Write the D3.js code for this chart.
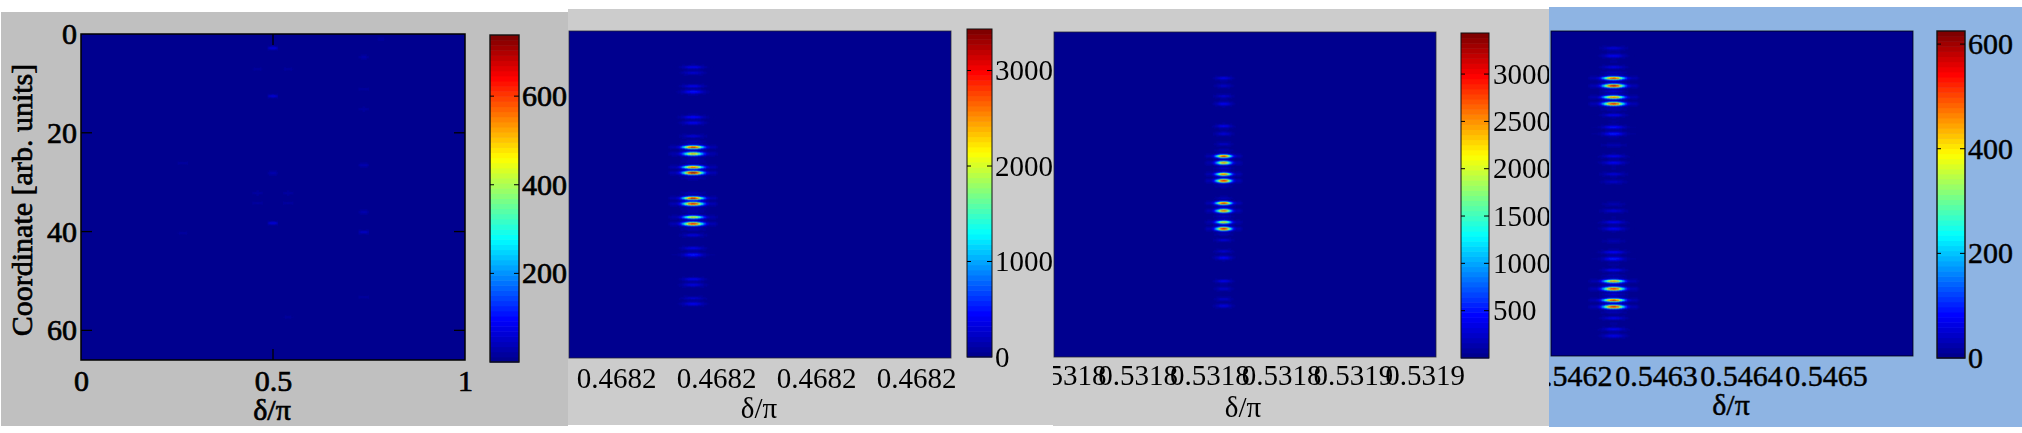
<!DOCTYPE html>
<html><head><meta charset="utf-8">
<style>html,body{margin:0;padding:0;background:#fff}svg{display:block}text{font-family:"Liberation Serif",serif;fill:#000}</style>
<script src="https://cdnjs.cloudflare.com/ajax/libs/d3/7.8.5/d3.min.js"></script>
</head><body><svg id="c" width="2022" height="433"></svg>
<script>
// Bright fringes: coordinate and peak intensity
const coordMax = 66;
const p1Spots = [[0.5,2.8,70],[0.5,12.5,65],[0.5,28,30],[0.5,38,70],[0.737,4.7,28],[0.737,15,22],[0.737,26.4,35],[0.737,35.9,30],[0.737,39.8,50],[0.737,53,16],[0.265,26,16],[0.265,40,14],[0.46,7,12],[0.54,7,12],[0.46,32,22],[0.54,32,22],[0.46,34,18],[0.54,34,18],[0.54,57,11],[0.78,1,10],[0.737,11,16]];
const p2Coord = [7.18,8.39,11.08,12.35,17.32,18.6,21.2,23.5,24.84,27.39,28.74,33.64,34.91,37.53,38.87,41.16,43.84,45.12,50.02,51.3,53.9,55.2];
const p2Peak  = [400,240,370,500,500,370,300,3350,2350,2950,3400,3430,3050,2350,3050,320,370,550,390,310,250,370];
const p3Coord = [9.36,10.92,13.09,14.58,19.13,20.62,22.79,25.1,26.59,28.83,30.32,34.8,36.29,38.53,40.02,42.33,44.5,45.99,50.53,52.09,54.26,55.69];
const p3Peak  = [370,220,280,400,420,280,230,3250,2450,2850,3050,3350,2750,2350,3150,290,250,420,380,230,230,320];
const p4Coord = [3.52,5.08,7.24,9.61,11.1,13.34,14.83,17.13,19.43,20.85,23.15,25.46,26.88,29.11,30.67,35.07,36.56,38.79,40.28,42.58,44.89,46.31,48.61,50.84,52.33,54.57,55.99,58.36,60.59,62.01];
const p4Peak  = [55,75,65,590,610,520,560,75,100,100,30,75,75,55,38,26,50,75,75,26,85,100,75,500,560,590,570,65,75,65];
const fringeCentreP2 = 0.4681854, fringeCentreP3 = 0.531824, fringeCentreP4 = 0.54625;
// Relative fringe profile read from the zooms (per cell away from the centre)
const profileAcross = [1,.98,.92,.84,.7,.57,.44,.33,.23,.14,.09,.06,.05,.05,.05,.04,.02];
const profileAlong  = [1,.72,.28,.07,.02,.045,.035,.01];
// Tick labels
const p1XTicks=[0,0.5,1], p1YTicks=[0,20,40,60], p1CbTicks=[200,400,600];
const p2XTicks=[0.46817,0.46819,0.46821,0.46823], p2CbTicks=[0,1000,2000,3000];
const p3XTicks=[0.53178,0.5318,0.53182,0.53184,0.53186,0.53188], p3CbTicks=[500,1000,1500,2000,2500,3000];
const p4XTicks=[0.5462,0.5463,0.5464,0.5465], p4CbTicks=[0,200,400,600];

const jetStops=[0,.125,.375,.625,.875,1];
const jetCols=["#00008f","#0000ff","#00ffff","#ffff00","#ff0000","#800000"];
const jet=d3.scaleLinear().domain(jetStops).range(jetCols).clamp(true);

const panels=[
 {bg:"#c0c0c0",box:[1,12,568,426],plot:[81,465,34,360],cb:[490,519,35,362],xd:[0,1],max:738,
  xT:p1XTicks,xF:d3.format("~g"),cbT:p1CbTicks,spots:p1Spots,bold:.7,xTS:10,yT:p1YTicks,
  lblY:391,titleX:272,titleY:420,fs:30,cbLab:3,cellX:.9,blur:.4,frame:"#000"},
 {bg:"#cccccc",box:[568,9,1053,425],plot:[569,951,31,358],cb:[967,992,29,357],
  xd:[0.46817-47/100*.00002,0.46817+335/100*.00002],max:3435,
  xT:p2XTicks,xF:d3.format(".4f"),cbT:p2CbTicks,coord:p2Coord,peak:p2Peak,centre:fringeCentreP2,bold:0,xTS:0,
  lblY:388,titleX:759,titleY:418,fs:29,cbLab:3,cellX:1.5,blur:.6,frame:"#223",soft:.35},
 {bg:"#cccccc",box:[1053,9,1549,426],plot:[1054,1436,32,357],cb:[1461,1489,33,358],
  xd:[0.53178-12/71.7*.00002,0.53178+370/71.7*.00002],max:3434,
  xT:p3XTicks,xF:d3.format(".4f"),cbT:p3CbTicks,coord:p3Coord,peak:p3Peak,centre:fringeCentreP3,bold:0,xTS:0,
  lblY:385,titleX:1243,titleY:417,fs:29,cbLab:4,cellX:1.15,blur:.6,frame:"#223",soft:.35},
 {bg:"#8eb4e3",box:[1549,7,2022,427],plot:[1551,1913,31,356],cb:[1937,1965,31,358],
  xd:[0.5462-21/90*.0001,0.5462+362/90*.0001],max:625,
  xT:p4XTicks,xF:d3.format(".4f"),cbT:p4CbTicks,coord:p4Coord,peak:p4Peak,centre:fringeCentreP4,bold:.45,xTS:0,
  lblY:386,titleX:1731,titleY:415,fs:30,cbLab:3,cellX:1.55,blur:.45,frame:"#000"}
];

const svg=d3.select("#c");
const defs=svg.append("defs");
panels.forEach((p,i)=>{
  const [bx0,by0,bx1,by1]=p.box,[px0,px1,py0,py1]=p.plot,[cx0,cx1,cy0,cy1]=p.cb;
  defs.append("clipPath").attr("id","pc"+i).append("rect").attr("x",bx0).attr("y",by0).attr("width",bx1-bx0).attr("height",by1-by0);
  defs.append("clipPath").attr("id","ph"+i).append("rect").attr("x",px0).attr("y",py0).attr("width",px1-px0).attr("height",py1-py0);
  defs.append("filter").attr("id","bl"+i).attr("x","-5%").attr("y","-5%").attr("width","110%").attr("height","110%")
    .append("feGaussianBlur").attr("stdDeviation",p.blur);
  if(p.soft) defs.append("filter").attr("id","sf"+i).attr("x","-5%").attr("y","-20%").attr("width","110%").attr("height","140%")
    .append("feGaussianBlur").attr("stdDeviation",p.soft);

  const g=svg.append("g").attr("clip-path",`url(#pc${i})`);
  g.append("rect").attr("x",bx0).attr("y",by0).attr("width",bx1-bx0).attr("height",by1-by0).attr("fill",p.bg);

  const x=d3.scaleLinear().domain(p.xd).range([px0,px1]);
  const y=d3.scaleLinear().domain([0,coordMax]).range([py0,py1]);
  const v=d3.scaleLinear().domain([0,p.max]).range([cy1,cy0]);
  const col=t=>jet(Math.round(t*63)/63);

  // heat map
  const heat=g.append("g").attr("clip-path",`url(#ph${i})`);
  heat.append("rect").attr("x",px0).attr("y",py0).attr("width",px1-px0).attr("height",py1-py0).attr("fill",jet(0));
  const cells=new Map();
  const add=(cxp,cyp,peak,acr,alo,cw)=>{
    const ix0=Math.round(cxp/cw), iy0=Math.round(cyp);
    alo.forEach((a,dy)=>acr.forEach((b,dx)=>{
      [[dx,dy],[-dx,dy],[dx,-dy],[-dx,-dy]].forEach(([sx,sy],k)=>{
        if((dx===0&&(k===1||k===3))||(dy===0&&k>=2))return;
        const key=(ix0+sx)+"_"+(iy0+sy);
        cells.set(key,(cells.get(key)||0)+peak*a*b);
      });
    }));
  };
  if(p.spots) p.spots.forEach(s=>add(x(s[0]),y(s[1]*coordMax/65.6),s[2],profileAcross.slice(0,6),profileAlong.slice(0,4),p.cellX));
  else p.coord.forEach((c,k)=>add(x(p.centre),y(c),p.peak[k],profileAcross,profileAlong,p.cellX));
  const cellData=Array.from(cells,([k,val])=>{const [a,b]=k.split("_").map(Number);return {a,b,val};})
     .filter(d=>d.val/p.max>0.004);
  heat.append("g").attr("filter",`url(#bl${i})`).selectAll("rect").data(cellData).join("rect")
    .attr("x",d=>d.a*p.cellX-p.cellX/2).attr("y",d=>d.b-.5)
    .attr("width",p.cellX+.3).attr("height",1.3)
    .attr("fill",d=>col(d.val/p.max));

  // frame
  g.append("rect").attr("x",px0).attr("y",py0).attr("width",px1-px0).attr("height",py1-py0)
    .attr("fill","none").attr("stroke",p.frame).attr("stroke-width",i===0?1.5:1).attr("opacity",i===0?1:.75);

  const textG=g.append("g"); if(p.soft) textG.attr("filter",`url(#sf${i})`);
  const style=s=>{s.attr("font-family",'"Liberation Serif",serif').attr("font-size",p.fs).attr("fill","#000");
     if(p.bold) s.attr("stroke","#000").attr("stroke-width",p.bold);};

  // x axis
  const xa=d3.axisBottom(x).tickValues(p.xT).tickFormat(p.xF).tickSize(0).tickPadding(0);
  const xg=textG.append("g").attr("transform",`translate(0,${py1})`).call(xa);
  xg.select(".domain").remove();
  xg.selectAll("text").attr("dy",null).attr("y",p.lblY-py1).call(style);
  textG.append("text").attr("x",p.titleX).attr("y",p.titleY).attr("text-anchor","middle").text("δ/π").call(style);

  if(i===0){
    const ya=d3.axisLeft(y).tickValues(p.yT).tickSize(0).tickPadding(0);
    const yg=textG.append("g").attr("transform",`translate(${px0},0)`).call(ya);
    yg.select(".domain").remove();
    yg.selectAll("text").attr("x",-4).attr("dy","0.32em").attr("font-size",p.fs).call(style);
    textG.append("text").attr("transform","translate(32,200) rotate(-90)").attr("text-anchor","middle").attr("font-size",p.fs)
       .text("Coordinate [arb. units]").call(style);
    p.yT.slice(1).forEach(t=>{
      g.append("line").attr("x1",px0).attr("x2",px0+11).attr("y1",y(t)).attr("y2",y(t)).attr("stroke","#000").attr("stroke-width",1.3);
      g.append("line").attr("x1",px1-11).attr("x2",px1).attr("y1",y(t)).attr("y2",y(t)).attr("stroke","#000").attr("stroke-width",1.3);
    });
    [[py0,py0+11],[py1-11,py1]].forEach(([a,b])=>g.append("line").attr("x1",x(.5)).attr("x2",x(.5)).attr("y1",a).attr("y2",b).attr("stroke","#000").attr("stroke-width",1.3));
  }

  // colour bar
  const levels=d3.range(64);
  g.append("g").selectAll("rect").data(levels).join("rect")
    .attr("x",cx0).attr("width",cx1-cx0)
    .attr("y",l=>v((l+1)/64*p.max)).attr("height",l=>v(l/64*p.max)-v((l+1)/64*p.max)+.5)
    .attr("fill",l=>jet(l/63));
  g.append("rect").attr("x",cx0).attr("y",cy0).attr("width",cx1-cx0).attr("height",cy1-cy0)
    .attr("fill","none").attr("stroke","#111").attr("stroke-width",i%3===0?1.4:1);
  p.cbT.forEach(t=>{
    if(t===0)return;
    g.append("line").attr("x1",cx0).attr("x2",cx0+4).attr("y1",v(t)).attr("y2",v(t)).attr("stroke","#000");
    g.append("line").attr("x1",cx1-5).attr("x2",cx1).attr("y1",v(t)).attr("y2",v(t)).attr("stroke","#000");
  });
  const ca=d3.axisRight(v).tickValues(p.cbT).tickFormat(d3.format("d")).tickSize(0).tickPadding(0);
  const cg=textG.append("g").attr("transform",`translate(${cx1},0)`).call(ca);
  cg.select(".domain").remove();
  cg.selectAll("text").attr("x",p.cbLab).attr("dy","0.32em").call(style);
});
</script></body></html>
